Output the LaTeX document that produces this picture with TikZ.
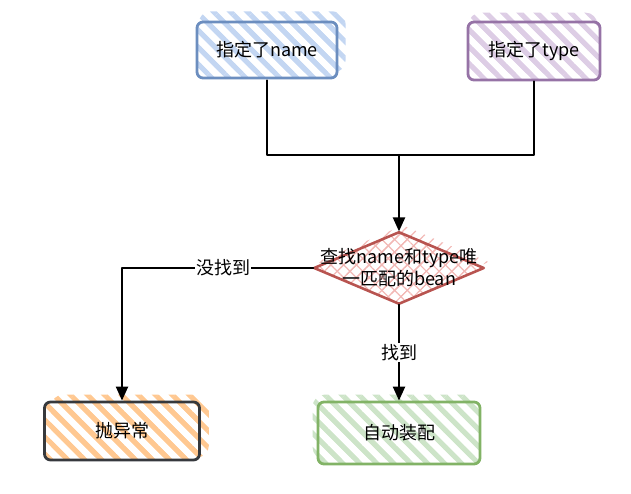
\documentclass[tikz,border=0pt]{standalone}
\usepackage{fontspec}
\setmainfont{Noto Sans CJK SC}
\usepackage{tikz}
\usetikzlibrary{positioning}
\usetikzlibrary{shapes}
\usetikzlibrary{backgrounds}
\usetikzlibrary{arrows.meta}
\usetikzlibrary{patterns.meta}
\definecolor{blueline}{HTML}{6C8EBF}
\definecolor{bluefill}{HTML}{C3D6F2}
\definecolor{purpleline}{HTML}{9673A6}
\definecolor{purplefill}{HTML}{DDCDE5}
\definecolor{redline}{HTML}{B85450}
\definecolor{redfill}{HTML}{F2B8B5}
\definecolor{darkline}{HTML}{36393D}
\definecolor{orangefill}{HTML}{FFC891}
\definecolor{greenline}{HTML}{82B366}
\definecolor{greenfill}{HTML}{CDE4C8}

\begin{document}
\begin{tikzpicture}[x=1pt,y=-1pt,line cap=round,line join=round,
  >={Triangle[width=12pt,length=14pt]},
  txt/.style={font=\fontsize{18}{22}\selectfont},
  sketchbox/.style={draw=#1,line width=2.8pt,rounded corners=6pt,txt,inner sep=0pt},
  hatch/.style={pattern={Lines[angle=-45,distance=12pt,line width=5pt]},pattern color=#1},
  spill/.style={hatch=#1,rounded corners=12pt},
  conn/.style={line width=2.2pt,black}]
\useasboundingbox (0,0) rectangle (631,494);
% start boxes
\node[sketchbox=blueline,hatch=bluefill,minimum width=140pt,minimum height=56pt] (byname) at (267,50) {指定了name};
\node[sketchbox=purpleline,hatch=purplefill,minimum width=132pt,minimum height=58pt] (bytype) at (534,51) {指定了type};
% decision
\node[diamond,draw=redline,line width=2.6pt,inner sep=0pt,minimum width=170pt,minimum height=72pt,
  preaction={pattern={Lines[angle=45,distance=9pt,line width=1.2pt]},pattern color=redfill},
  pattern={Lines[angle=-45,distance=9pt,line width=1.2pt]},pattern color=redfill,
  label={[txt,align=center,inner sep=0pt]center:查找name和type唯\\一匹配的bean}] (lookup) at (399,268) {};
% results
\node[sketchbox=darkline,hatch=orangefill,minimum width=155pt,minimum height=58pt] (fail) at (122,431) {抛异常};
\node[sketchbox=greenline,hatch=greenfill,minimum width=162pt,minimum height=62pt] (wire) at (399,433) {自动装配};
% rough hatching spilling out of the boxes
\begin{scope}[on background layer]
\path[spill=bluefill] ([shift={(4,-8)}]byname.south west) rectangle ([shift={(6,-8)}]byname.north east);
\path[spill=purplefill] ([shift={(2,-8)}]bytype.south west) rectangle ([shift={(-4,-8)}]bytype.north east);
\path[spill=orangefill] ([shift={(8,-4)}]fail.south west) rectangle ([shift={(8,-6)}]fail.north east);
\path[spill=greenfill] ([shift={(-4,-6)}]wire.south west) rectangle ([shift={(-2,-6)}]wire.north east);
\path[pattern={Lines[angle=45,distance=9pt,line width=1.2pt]},pattern color=redfill]
  ([shift={(4,-6)}]lookup.west) -- ([shift={(4,-6)}]lookup.north) -- ([shift={(4,-6)}]lookup.east) -- ([shift={(4,-6)}]lookup.south) -- cycle;
\end{scope}
% connectors
\coordinate (join) at (399,155);
\draw[conn] (byname.south) |- (join) -| (bytype.south);
\draw[conn,->] (join) -- (lookup.north);
\draw[conn,->] (lookup.west) -| node[pos=0.236,fill=white,txt,inner sep=1pt] (nolabel) {没找到} (fail.north);
\draw[conn,->] (lookup.south) -- node[fill=white,txt,inner sep=1pt] (yeslabel) {找到} (wire.north);
\end{tikzpicture}
\end{document}
